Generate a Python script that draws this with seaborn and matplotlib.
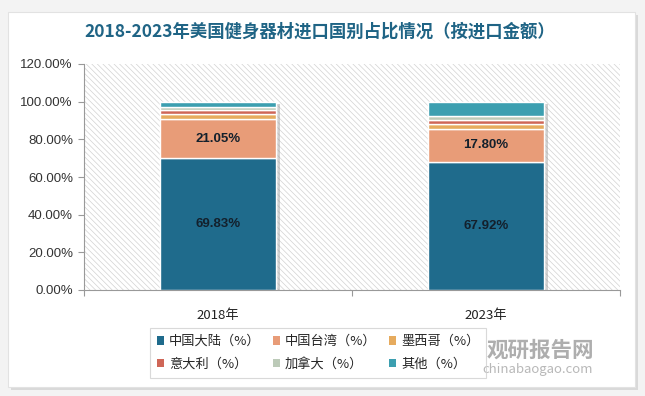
import matplotlib
matplotlib.use("Agg")
import matplotlib.pyplot as plt
import matplotlib.patheffects as pe
from matplotlib.patches import Rectangle, Patch
import seaborn as sns

YEARS = ["2018年", "2023年"]
SERIES = ["中国大陆（%）", "中国台湾（%）", "墨西哥（%）", "意大利（%）", "加拿大（%）", "其他（%）"]
CHINA = [69.83, 67.92]
TAIWAN = [21.05, 17.80]
MEXICO = [2.5, 2.6]
ITALY = [2.2, 2.2]
CANADA = [1.6, 1.7]
OTHER = [2.8, 7.78]
COLORS = ["#1f6b8c", "#e89c78", "#e6ab5e", "#cf6657", "#bccab8", "#3c9fb0"]
YTICKS = [0, 20, 40, 60, 80, 100, 120]

sns.set_theme(style="white")
plt.rcParams["font.family"] = ["Noto Sans CJK SC", "DejaVu Sans"]
plt.rcParams["hatch.color"] = "#d2d2d2"
plt.rcParams["hatch.linewidth"] = 0.5

values = [CHINA, TAIWAN, MEXICO, ITALY, CANADA, OTHER]

fig = plt.figure(figsize=(6.45, 3.96), dpi=100, facecolor="#f3f3f3")

# white card with soft shadow, kept behind everything
card = Rectangle((8 / 645, 1 - 387 / 396), 627 / 645, 375 / 396, transform=fig.transFigure,
                 facecolor="white", edgecolor="#e2e2e2", lw=0.8, zorder=-10,
                 path_effects=[pe.SimplePatchShadow(offset=(2, -2), shadow_rgbFace="#c8c8c8", alpha=0.6), pe.Normal()])
fig.patches.append(card)

ax = fig.add_axes([84 / 645, 1 - 290 / 396, 536 / 645, 226 / 396])
ax.set_facecolor("none")
ax.add_patch(Rectangle((0, 0), 1, 1, transform=ax.transAxes, facecolor="white",
                       edgecolor="#d2d2d2", lw=0, hatch="\\" * 6, zorder=0))

# full-height bars underneath, only to cast a shadow
totals = [sum(v[i] for v in values) for i in range(len(YEARS))]
n_before = len(ax.patches)
sns.barplot(x=YEARS, y=totals, color="white", saturation=1, width=0.43, ax=ax, zorder=1)
for p in ax.patches[n_before:]:
    p.set_path_effects([pe.SimplePatchShadow(offset=(3, -2), shadow_rgbFace="#999999", alpha=0.45), pe.Normal()])

bottom = [0.0, 0.0]
for name, vals, c in zip(SERIES, values, COLORS):
    sns.barplot(x=YEARS, y=vals, bottom=bottom, color=c, saturation=1, width=0.43, ax=ax,
                edgecolor="white", linewidth=1.0, zorder=2)
    bottom = [b + v for b, v in zip(bottom, vals)]

# data labels on the two main segments
for i in range(len(YEARS)):
    ax.text(i, CHINA[i] / 2, f"{CHINA[i]:.2f}%", ha="center", va="center", fontsize=9.5,
            fontweight="bold", color="#13202c", family=["Liberation Sans"], zorder=5)
    ax.text(i, CHINA[i] + TAIWAN[i] / 2, f"{TAIWAN[i]:.2f}%", ha="center", va="center", fontsize=9.5,
            fontweight="bold", color="#13202c", family=["Liberation Sans"], zorder=5)

ax.set_xlim(-0.5, 1.5)
ax.set_ylim(0, 120)
ax.set_yticks(YTICKS)
ax.set_yticklabels([f"{t:.2f}%" for t in YTICKS], fontsize=9.5, color="#333333", family=["Liberation Sans"])
ax.set_xticks(range(len(YEARS)))
ax.set_xticklabels(YEARS, fontsize=9.5, color="#222222")
ax.set_xticks([-0.5, 0.5, 1.5], minor=True)
ax.tick_params(axis="y", which="major", left=True, length=4, width=0.8, color="#999999", pad=4)
ax.tick_params(axis="x", which="major", bottom=False, pad=8)
ax.tick_params(axis="x", which="minor", bottom=True, length=4, width=0.8, color="#999999")
ax.set_xlabel("")
ax.set_ylabel("")
for s in ["top", "right"]:
    ax.spines[s].set_visible(False)
for s in ["left", "bottom"]:
    ax.spines[s].set_color("#999999")
    ax.spines[s].set_linewidth(0.8)
    ax.spines[s].set_zorder(6)

fig.text(320 / 645, 1 - 32 / 396, "2018-2023年美国健身器材进口国别占比情况（按进口金额）",
         ha="center", va="center", fontsize=12.5, fontweight="bold", color="#1f6485")

# watermark (behind the legend)
fig.text(540 / 645, 1 - 350 / 396, "观研报告网", ha="center", va="center", fontsize=15.5,
         fontweight="bold", color="#8c8c8c", alpha=0.7, zorder=1)
fig.text(538 / 645, 1 - 370 / 396, "chinabaogao.com", ha="center", va="center", fontsize=9.5,
         color="#9a9a9a", alpha=0.7, zorder=1)

# legend rows: 3 per row, filled row-wise
order = [0, 3, 1, 4, 2, 5]
handles = [Patch(facecolor=COLORS[k], edgecolor="none") for k in order]
labels = [SERIES[k] for k in order]
leg = fig.legend(handles, labels, ncol=3, loc="center", bbox_to_anchor=(318 / 645, 1 - 353 / 396),
                 fontsize=9.5, frameon=True, fancybox=False, edgecolor="#d0d0d0",
                 handlelength=0.6, handleheight=0.6, handletextpad=0.35, columnspacing=0.9,
                 labelspacing=0.75, borderpad=0.5)
frame = leg.get_frame()
frame.set_linewidth(0.8)
frame.set_facecolor("none")

fig.savefig("out.png", dpi=100, facecolor=fig.get_facecolor())
